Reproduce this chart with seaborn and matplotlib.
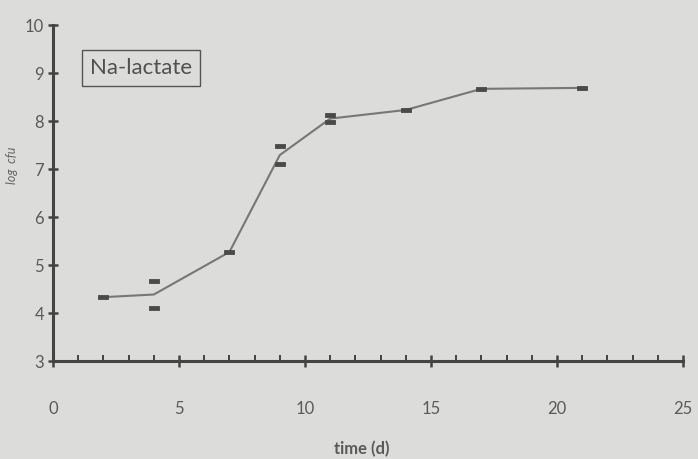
import numpy as np
import pandas as pd
import seaborn as sns
import matplotlib
matplotlib.use("Agg")
import matplotlib.pyplot as plt

time_d = [2, 4, 4, 7, 9, 9, 11, 11, 14, 17, 21]
log_cfu = [4.33, 4.67, 4.10, 5.27, 7.48, 7.10, 8.12, 7.98, 8.23, 8.67, 8.69]
x_ticks = [0, 5, 10, 15, 20, 25]
y_ticks = [3, 4, 5, 6, 7, 8, 9, 10]
label_text = "Na-lactate"

df = pd.DataFrame({"time": time_d, "cfu": log_cfu})

sns.set_style("white")
bg = "#dcdcda"
axis_col = "#444444"
text_col = "#5a5a5a"
plt.rcParams["font.family"] = ["Lato", "DejaVu Sans"]

fig = plt.figure(figsize=(6.98, 4.59), dpi=100, facecolor=bg)
ax = fig.add_axes([53 / 698, 1 - 361 / 459, (683 - 53) / 698, (361 - 25) / 459])
ax.set_facecolor(bg)

# mean line through replicates
sns.lineplot(data=df, x="time", y="cfu", errorbar=None, estimator="mean",
             color="#777777", linewidth=1.5, ax=ax)
# replicate points as small rectangles
rect = [(-1, -0.4), (1, -0.4), (1, 0.4), (-1, 0.4), (-1, -0.4)]
sns.scatterplot(data=df, x="time", y="cfu", marker=rect, s=45,
                color="#4a4a4a", edgecolor="#4a4a4a", linewidth=0.6,
                ax=ax, zorder=3)

ax.set_xlim(0, 25)
ax.set_ylim(3, 10)
ax.set_xticks(x_ticks)
ax.set_xticklabels([str(v) for v in x_ticks])
ax.set_xticks(np.arange(0, 26, 1), minor=True)
ax.set_yticks(y_ticks)
ax.set_yticklabels([str(v) for v in y_ticks])

for s in ["top", "right"]:
    ax.spines[s].set_visible(False)
for s in ["left", "bottom"]:
    ax.spines[s].set_color(axis_col)
    ax.spines[s].set_linewidth(2.2)

ax.tick_params(axis="y", which="major", direction="inout", length=7, width=1.8,
               color=axis_col, labelsize=12, labelcolor=text_col, pad=3, left=True)
ax.tick_params(axis="x", which="major", direction="inout", length=9, width=1.8,
               color=axis_col, labelsize=12, labelcolor=text_col, pad=24, bottom=True)
ax.tick_params(axis="x", which="minor", direction="in", length=4, width=1.4,
               color=axis_col, bottom=True)

ax.set_xlabel("time (d)", fontsize=12, fontweight="bold", color=text_col)
ax.xaxis.set_label_coords((362 - 53) / 630, -(441 - 361) / 336)
ax.set_ylabel("log  cfu", fontsize=9, fontstyle="italic", color="#666666")
ax.yaxis.set_label_coords((18 - 53) / 630, (361 - 165) / 336)

ax.text(3.5, 9.1, label_text, fontsize=16, color="#505050", ha="center", va="center",
        bbox=dict(boxstyle="square,pad=0.35", facecolor="none", edgecolor="#555555",
                  linewidth=1.0))

fig.savefig("out.png", dpi=100, facecolor=bg)
